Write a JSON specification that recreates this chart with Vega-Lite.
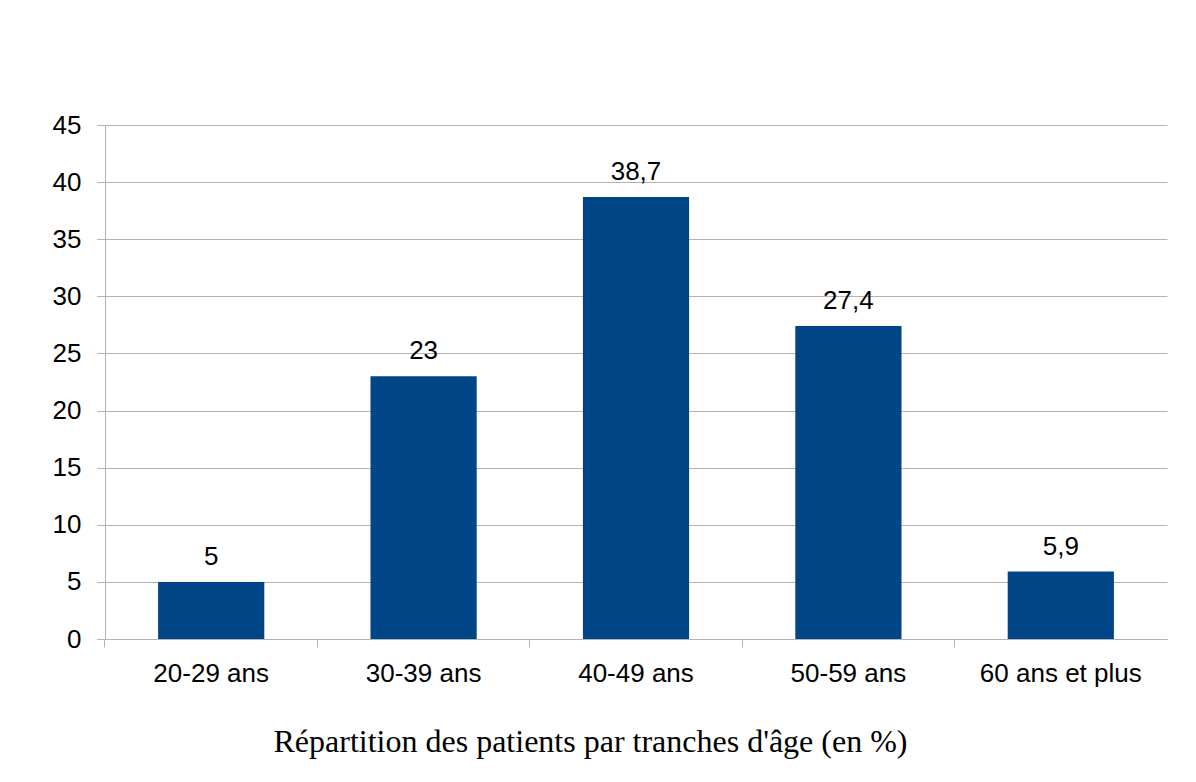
{
  "$schema": "https://vega.github.io/schema/vega-lite/v6.json",
  "autosize": {"type": "none"},
  "padding": {"left": 105, "top": 125, "right": 29, "bottom": 143},
  "width": 1062,
  "height": 514,
  "background": "white",
  "data": {
    "values": [
      {"tranche": "20-29 ans", "pct": 5, "label": "5"},
      {"tranche": "30-39 ans", "pct": 23, "label": "23"},
      {"tranche": "40-49 ans", "pct": 38.7, "label": "38,7"},
      {"tranche": "50-59 ans", "pct": 27.4, "label": "27,4"},
      {"tranche": "60 ans et plus", "pct": 5.9, "label": "5,9"}
    ]
  },
  "encoding": {
    "x": {
      "field": "tranche",
      "type": "nominal",
      "sort": null,
      "scale": {"paddingInner": 0.5, "paddingOuter": 0.25},
      "axis": {
        "title": "Répartition des patients par tranches d'âge (en %)",
        "titleFont": "Liberation Serif",
        "titleFontSize": 32,
        "titleFontWeight": "normal",
        "titleColor": "black",
        "titleX": 485,
        "titleY": 112,
        "titleAlign": "center",
        "titleBaseline": "alphabetic",
        "labelFont": "Liberation Sans",
        "labelFontSize": 26,
        "labelColor": "black",
        "labelAngle": 0,
        "labelPadding": 13,
        "bandPosition": -0.5,
        "tickSize": 8,
        "tickColor": "#b3b3b3",
        "domainColor": "#b3b3b3",
        "grid": false
      }
    },
    "y": {
      "field": "pct",
      "type": "quantitative",
      "scale": {"domain": [0, 45], "nice": false},
      "axis": {
        "title": null,
        "values": [0, 5, 10, 15, 20, 25, 30, 35, 40, 45],
        "labelFont": "Liberation Sans",
        "labelFontSize": 26,
        "labelColor": "black",
        "labelPadding": 16,
        "tickSize": 8,
        "tickColor": "#b3b3b3",
        "domainColor": "#b3b3b3",
        "gridColor": "#b3b3b3",
        "grid": true
      }
    }
  },
  "layer": [
    {"mark": {"type": "bar", "color": "#004586"}},
    {
      "mark": {
        "type": "text",
        "font": "Liberation Sans",
        "fontSize": 26,
        "color": "black",
        "baseline": "alphabetic",
        "dy": -17
      },
      "encoding": {"text": {"field": "label"}}
    }
  ],
  "config": {"view": {"stroke": null}}
}
